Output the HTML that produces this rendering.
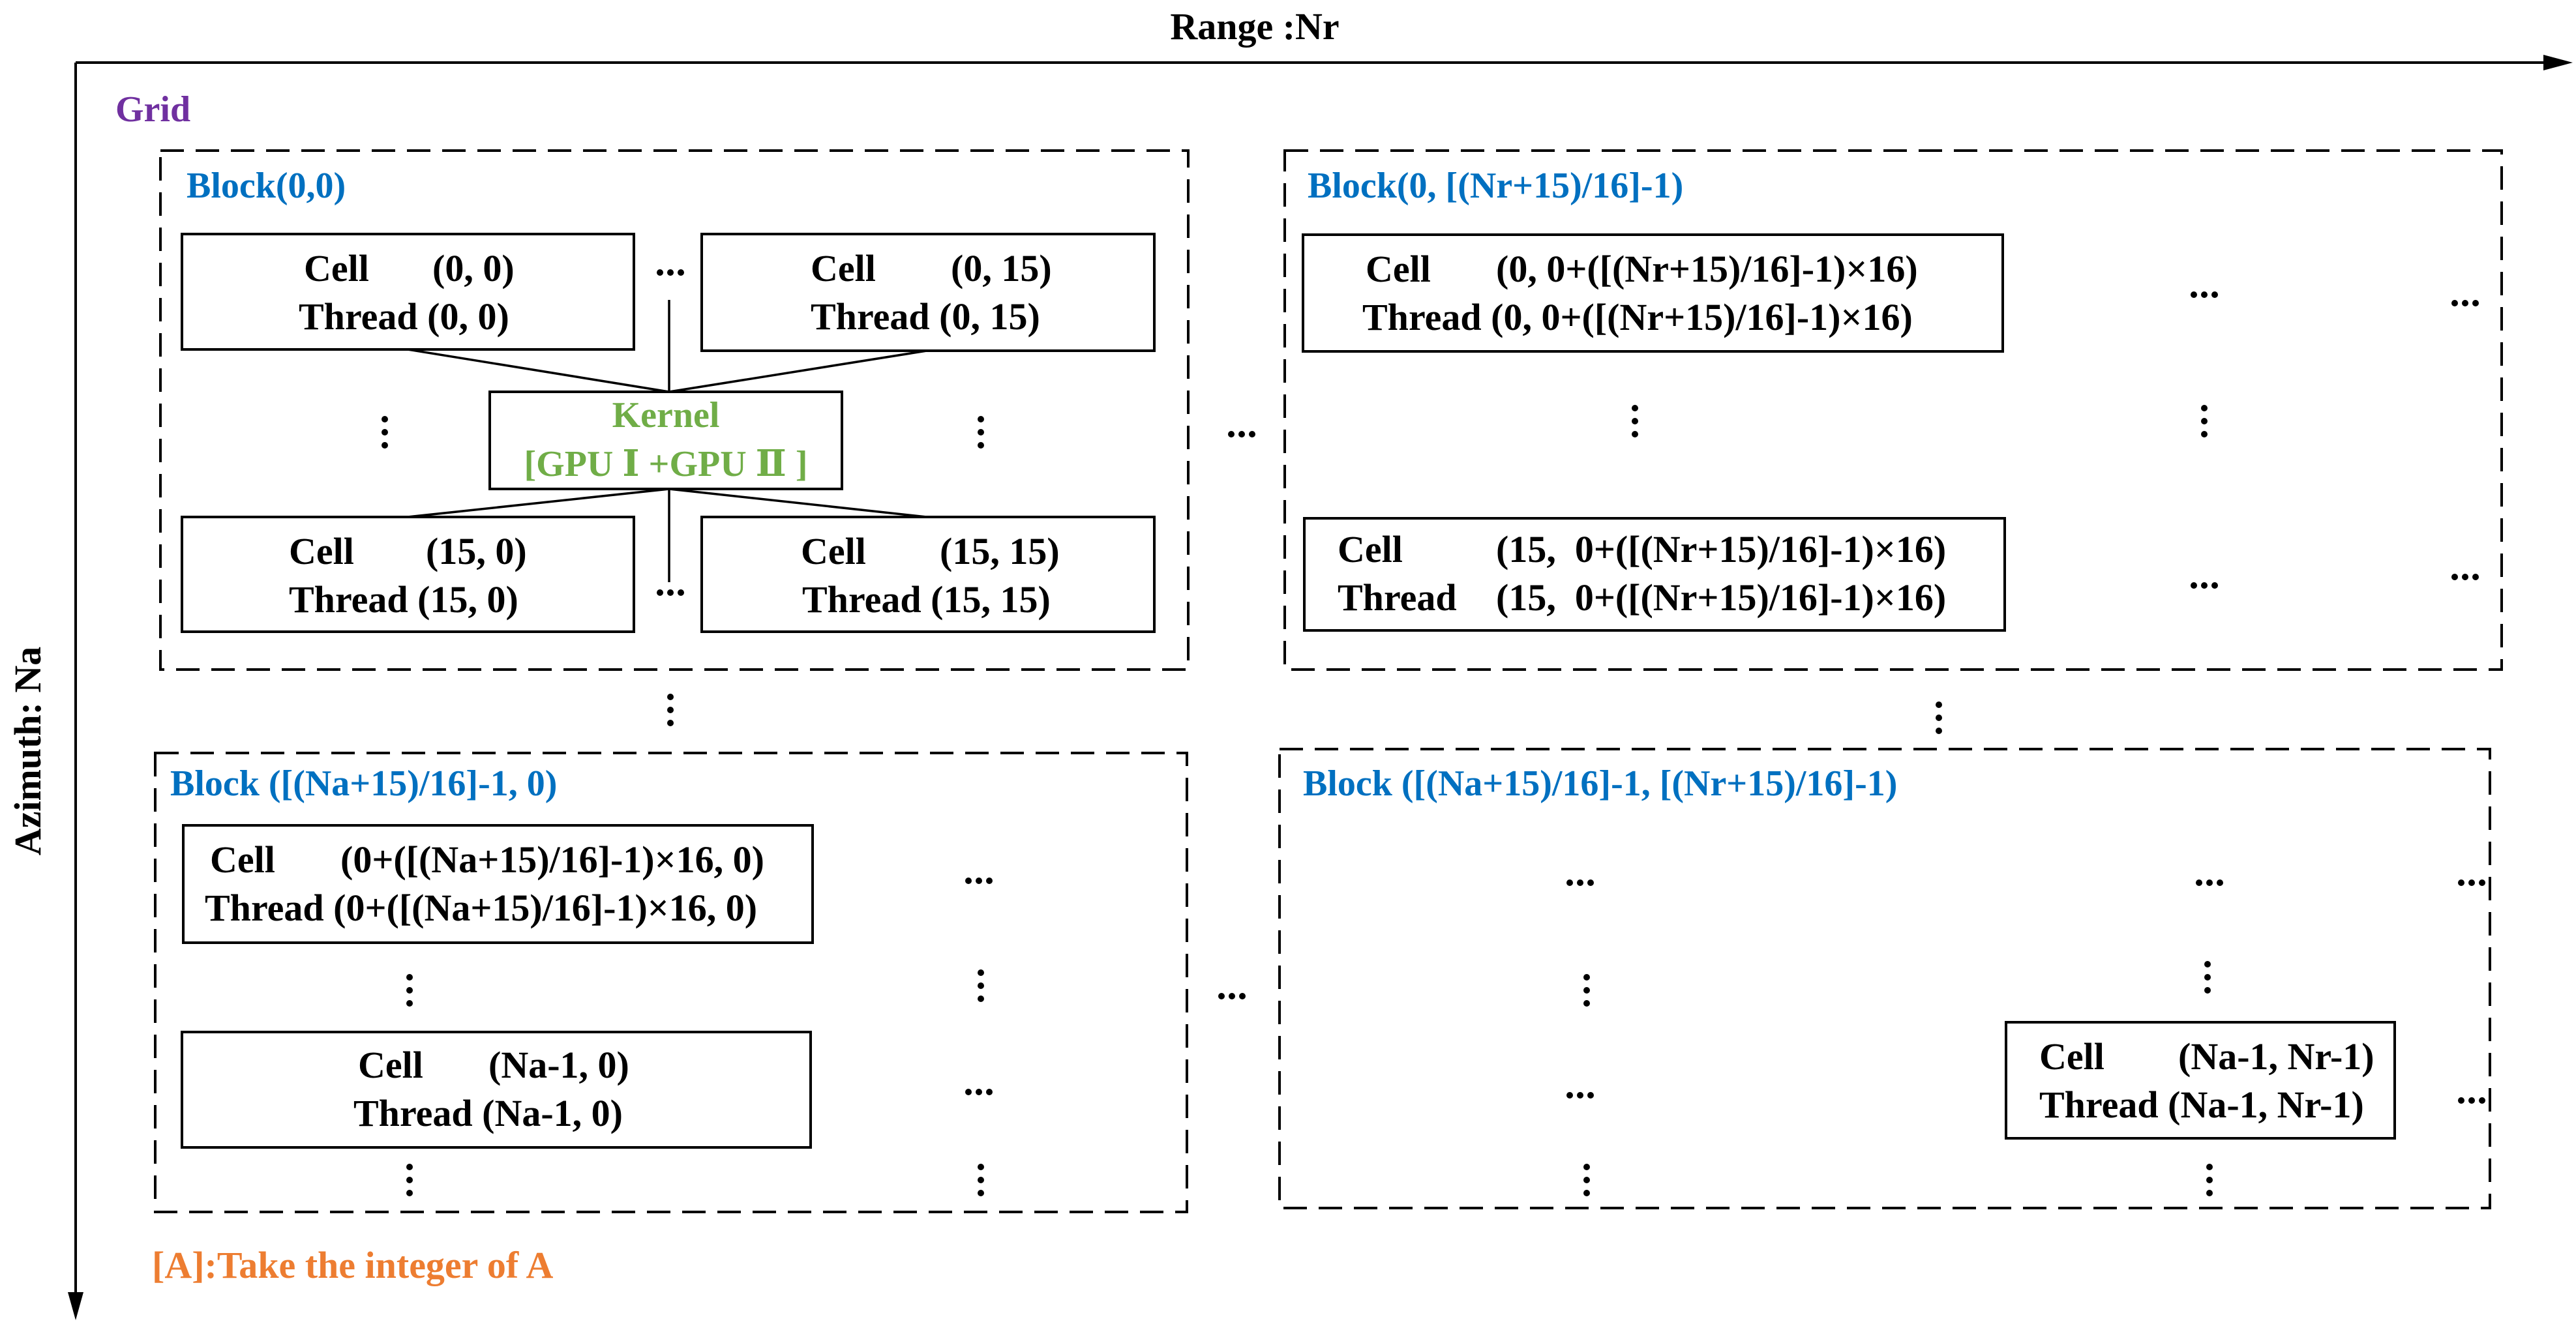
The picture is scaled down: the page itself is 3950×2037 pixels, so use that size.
<!DOCTYPE html>
<html><head><meta charset="utf-8"><style>
html,body{margin:0;padding:0;background:#fff}
svg{display:block}
svg text{font-family:"Liberation Serif","DejaVu Serif",serif;font-weight:bold}
</style></head><body>
<svg width="3950" height="2037" viewBox="0 0 3950 2037" xmlns="http://www.w3.org/2000/svg" font-family="Liberation Serif, serif" font-weight="bold">
<defs>
<g id="h"><circle cx="-16" cy="0" r="5"/><circle cx="0" cy="0" r="5"/><circle cx="16" cy="0" r="5"/></g>
<g id="v"><circle cx="0" cy="-20" r="5"/><circle cx="0" cy="0" r="5"/><circle cx="0" cy="20" r="5"/></g>
</defs>
<line x1="116" y1="96" x2="3910" y2="96" stroke="#000" stroke-width="4"/>
<polygon points="3945,96 3900,84 3900,108" fill="#000"/>
<line x1="116" y1="96" x2="116" y2="1990" stroke="#000" stroke-width="4"/>
<polygon points="116,2025 104,1982 128,1982" fill="#000"/>
<g font-family="Liberation Serif, serif" font-weight="bold">
<text x="1924" y="60" font-size="58" text-anchor="middle">Range :Nr</text>
<text transform="translate(62,1152) rotate(-90)" font-size="58" text-anchor="middle">Azimuth: Na</text>
<text x="177" y="186" font-size="56" fill="#7030A0">Grid</text>
<text x="233" y="1960" font-size="58" fill="#ED7D31">[A]:Take the integer of A</text>
</g>

<g fill="none" stroke="#000" stroke-width="4" stroke-dasharray="36,18">
<rect x="246" y="231" width="1576" height="796"/>
<rect x="1970" y="231" width="1866" height="796"/>
<rect x="238" y="1155" width="1582" height="704"/>
<rect x="1962" y="1149" width="1856" height="704"/>
</g>
<g font-size="56" fill="#0070C0" font-family="Liberation Serif, serif" font-weight="bold">
<text x="286" y="303">Block(0,0)</text>
<text x="2005" y="303">Block(0, [(Nr+15)/16]-1)</text>
<text x="261" y="1220">Block ([(Na+15)/16]-1, 0)</text>
<text x="1998" y="1220">Block ([(Na+15)/16]-1, [(Nr+15)/16]-1)</text>
</g>

<g fill="#fff" stroke="#000" stroke-width="4">
<rect x="279" y="359" width="693" height="177"/>
<rect x="1076" y="359" width="694" height="179"/>
<rect x="279" y="793" width="693" height="176"/>
<rect x="1076" y="793" width="694" height="176"/>
<rect x="1998" y="360" width="1073" height="179"/>
<rect x="2000" y="795" width="1074" height="172"/>
<rect x="281" y="1266" width="965" height="180"/>
<rect x="279" y="1583" width="964" height="177"/>
<rect x="3076" y="1568" width="596" height="178"/>
</g>
<g stroke="#000" stroke-width="3.5">
<line x1="1026" y1="460" x2="1026" y2="601"/>
<line x1="625" y1="536" x2="1026" y2="601"/>
<line x1="1421" y1="538" x2="1026" y2="601"/>
<line x1="1026" y1="750" x2="625" y2="793"/>
<line x1="1026" y1="750" x2="1421" y2="793"/>
<line x1="1026" y1="750" x2="1026" y2="893"/>
</g>
<rect x="751" y="601" width="540" height="149" fill="#fff" stroke="#000" stroke-width="4"/>
<g font-size="56" fill="#70AD47" text-anchor="middle" font-family="Liberation Serif, serif" font-weight="bold">
<text x="1021" y="655">Kernel</text>
<text x="1021" y="730">[GPU Ⅰ +GPU Ⅱ ]</text>
</g>

<g font-size="58" fill="#000" font-family="Liberation Serif, serif" font-weight="bold">
<text x="466" y="431">Cell</text><text x="663" y="431">(0, 0)</text>
<text x="458" y="505">Thread (0, 0)</text>
<text x="1243" y="431">Cell</text><text x="1458" y="431">(0, 15)</text>
<text x="1243" y="505">Thread (0, 15)</text>
<text x="443" y="865">Cell</text><text x="653" y="865">(15, 0)</text>
<text x="443" y="939">Thread (15, 0)</text>
<text x="1228" y="865">Cell</text><text x="1441" y="865">(15, 15)</text>
<text x="1230" y="939">Thread (15, 15)</text>
<text x="2094" y="432">Cell</text><text x="2294" y="432">(0, 0+([(Nr+15)/16]-1)×16)</text>
<text x="2089" y="506">Thread (0, 0+([(Nr+15)/16]-1)×16)</text>
<text x="2051" y="862">Cell</text><text x="2294" y="862" xml:space="preserve">(15,  0+([(Nr+15)/16]-1)×16)</text>
<text x="2051" y="936">Thread</text><text x="2294" y="936" xml:space="preserve">(15,  0+([(Nr+15)/16]-1)×16)</text>
<text x="322" y="1338">Cell</text><text x="522" y="1338">(0+([(Na+15)/16]-1)×16, 0)</text>
<text x="314" y="1412">Thread (0+([(Na+15)/16]-1)×16, 0)</text>
<text x="549" y="1653">Cell</text><text x="749" y="1653">(Na-1, 0)</text>
<text x="542" y="1727">Thread (Na-1, 0)</text>
<text x="3127" y="1640">Cell</text><text x="3340" y="1640">(Na-1, Nr-1)</text>
<text x="3127" y="1714">Thread (Na-1, Nr-1)</text>
</g>

<g fill="#000">
<use href="#h" x="1028" y="418"/><use href="#h" x="1028" y="909"/>
<use href="#v" x="590" y="663"/><use href="#v" x="1504" y="663"/><use href="#h" x="1904" y="666"/>
<use href="#h" x="3380" y="452"/><use href="#h" x="3780" y="465"/>
<use href="#v" x="2507" y="646"/><use href="#v" x="3380" y="646"/>
<use href="#h" x="3380" y="898"/><use href="#h" x="3780" y="885"/>
<use href="#v" x="1028" y="1089"/><use href="#v" x="2973" y="1101"/>
<use href="#h" x="1501" y="1351"/><use href="#v" x="628" y="1519"/><use href="#v" x="1504" y="1512"/>
<use href="#h" x="1501" y="1675"/><use href="#v" x="628" y="1810"/><use href="#v" x="1504" y="1810"/>
<use href="#h" x="1889" y="1528"/>
<use href="#h" x="2423" y="1354"/><use href="#h" x="3388" y="1354"/><use href="#h" x="3790" y="1354"/>
<use href="#v" x="2433" y="1519"/><use href="#v" x="3385" y="1499"/>
<use href="#h" x="2423" y="1680"/><use href="#h" x="3790" y="1688"/>
<use href="#v" x="2433" y="1810"/><use href="#v" x="3388" y="1810"/>
</g>
</svg>
</body></html>
